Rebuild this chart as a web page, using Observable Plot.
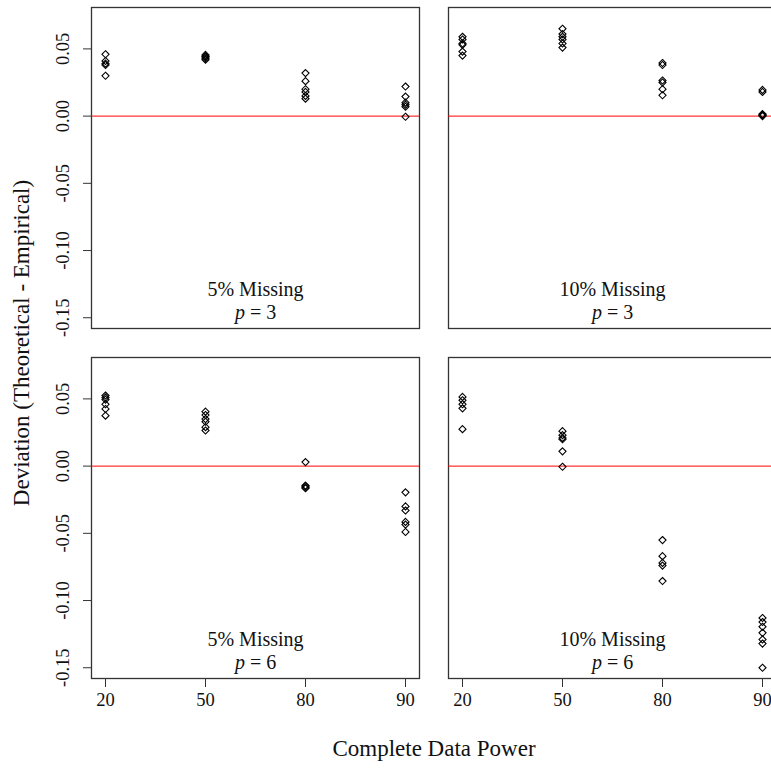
<!DOCTYPE html>
<html>
<head>
<meta charset="utf-8">
<script src="https://cdn.jsdelivr.net/npm/d3@7"></script>
<script src="https://cdn.jsdelivr.net/npm/@observablehq/plot@0.6"></script>
<style>
  html, body { margin: 0; padding: 0; background: #fff; overflow: hidden; }
  #wrap { width: 771px; height: 769px; overflow: hidden; }
  #wrap svg { max-width: none !important; }
</style>
</head>
<body>
<div id="wrap"></div>
<script>
// Categories
const powers = [20, 50, 80, 90];
const missingLevels = ["5% Missing", "10% Missing"];
const pLevels = [3, 6];
const yTicks = [-0.15, -0.10, -0.05, 0.00, 0.05];

// Deviation (Theoretical - Empirical), one list per power level
const dev5p3 = [
  [0.046, 0.041, 0.039, 0.038, 0.030],
  [0.0455, 0.0445, 0.044, 0.043, 0.042],
  [0.032, 0.026, 0.020, 0.018, 0.015, 0.013],
  [0.022, 0.0145, 0.010, 0.0085, 0.007, -0.0005]
];
const dev10p3 = [
  [0.059, 0.057, 0.054, 0.053, 0.048, 0.045],
  [0.065, 0.061, 0.059, 0.057, 0.054, 0.051],
  [0.0395, 0.038, 0.0265, 0.025, 0.020, 0.0155],
  [0.0195, 0.018, 0.0015, 0.001, 0.0005, 0.0]
];
const dev5p6 = [
  [0.0525, 0.051, 0.0495, 0.046, 0.0425, 0.0375],
  [0.0405, 0.038, 0.035, 0.033, 0.029, 0.0265],
  [0.003, -0.0145, -0.015, -0.016, -0.0165],
  [-0.0195, -0.030, -0.033, -0.0415, -0.0435, -0.049]
];
const dev10p6 = [
  [0.0515, 0.049, 0.046, 0.043, 0.0275],
  [0.026, 0.023, 0.021, 0.020, 0.011, -0.0005],
  [-0.055, -0.067, -0.072, -0.074, -0.0855],
  [-0.113, -0.116, -0.1195, -0.124, -0.129, -0.132, -0.150]
];

const panels = [
  {missing: "5% Missing", p: 3, values: dev5p3},
  {missing: "10% Missing", p: 3, values: dev10p3},
  {missing: "5% Missing", p: 6, values: dev5p6},
  {missing: "10% Missing", p: 6, values: dev10p6}
];

const rows = [];
for (const panel of panels) {
  panel.values.forEach((vals, i) => {
    for (const v of vals) rows.push({missing: panel.missing, p: panel.p, power: powers[i], dev: v});
  });
}
const panelRows = panels.map(d => ({missing: d.missing, p: d.p, plabel: "= " + d.p}));

const serif = "'Liberation Serif', 'Times New Roman', serif";

const chart = Plot.plot({
  width: 777,
  height: 769,
  marginTop: 7,
  marginBottom: 91,
  marginLeft: 90,
  marginRight: 0,
  style: {fontFamily: serif, fontSize: "18.5px", color: "#111", background: "#fff", maxWidth: "none"},
  fx: {domain: missingLevels, paddingInner: 0.08, paddingOuter: 0, axis: null, label: null},
  fy: {domain: pLevels, paddingInner: 0.0829, paddingOuter: 0, axis: null, label: null},
  x: {type: "point", domain: powers, padding: 0.135, label: null},
  y: {domain: [-0.158, 0.0808], label: null},
  marks: [
    Plot.frame({stroke: "#333", strokeWidth: 1.3}),
    Plot.ruleY([0], {stroke: "#ff0000", strokeWidth: 1}),
    Plot.dot(rows, {x: "power", y: "dev", fx: "missing", fy: "p", symbol: "diamond2", r: 3.2, stroke: "#000", strokeWidth: 1.1, fill: "none"}),
    Plot.text(panelRows, {fx: "missing", fy: "p", text: "missing", frameAnchor: "bottom", lineAnchor: "middle", dy: -39, fontSize: 20, fill: "#111"}),
    Plot.text(panelRows, {fx: "missing", fy: "p", text: () => "p", frameAnchor: "bottom", lineAnchor: "middle", dy: -16, dx: -10.6, textAnchor: "end", fontSize: 20, fontStyle: "italic", fill: "#111"}),
    Plot.text(panelRows, {fx: "missing", fy: "p", text: "plabel", frameAnchor: "bottom", lineAnchor: "middle", dy: -16, dx: -5.6, textAnchor: "start", fontSize: 20, fill: "#111"}),
    Plot.axisY({ticks: yTicks, tickFormat: d => d.toFixed(2), tickSize: 8, tickRotate: -90, tickPadding: 15, label: null, stroke: "#333"}),
    Plot.axisX({tickSize: 9, tickPadding: 5, label: null, stroke: "#333"}),
    Plot.text(["Deviation (Theoretical - Empirical)"], {facet: "super", frameAnchor: "left", textAnchor: "middle", lineAnchor: "middle", text: d => d, rotate: -90, dx: -70, fontSize: 23, fill: "#111"}),
    Plot.text(["Complete Data Power"], {facet: "super", frameAnchor: "bottom", lineAnchor: "middle", text: d => d, dy: 70, fontSize: 23, fill: "#111"})
  ]
});
chart.style.maxWidth = "none";
document.getElementById("wrap").appendChild(chart);
</script>
</body>
</html>
